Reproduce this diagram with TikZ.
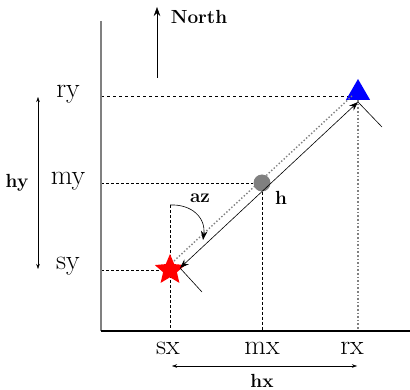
\documentclass[tikz,border=0pt]{standalone}
\usepackage{tikz}
\usepackage{xcolor}
\usetikzlibrary{positioning, calc, shapes.geometric, arrows.meta, backgrounds}

\begin{document}
\begin{tikzpicture}[x=1pt, y=-1pt, >={Stealth[length=9pt,width=6.5pt]},
    every node/.style={font=\fontsize{19}{21}\selectfont\bfseries},
    axlabel/.style={font=\fontsize{28}{30}\selectfont},
    marker/.style={inner sep=0pt, draw=none}]
  \useasboundingbox (0,0) rectangle (410,390);

  % axes
  \coordinate (o) at (101,331);
  \coordinate (ytop) at (101,21);
  \coordinate (xend) at (410,331);
  \draw[gray, line width=2.4pt] (ytop) -- (o);
  \draw[black, line width=1.4pt] (o) -- (xend);

  % markers
  \node[marker, regular polygon, regular polygon sides=3, minimum size=28pt, fill=blue] (tri) at (358,93) {};
  \node[marker, star, star points=5, star point ratio=2.2, minimum size=32pt, fill=red] (st) at (170,270) {};
  \node[marker, circle, minimum size=17pt, fill=gray] (mid) at (262,183) {};

  % axis labels
  \node[axlabel] (ry) at (68,94) {ry};
  \node[axlabel] (my) at (68,181) {my};
  \node[axlabel] (sy) at (68,266) {sy};
  \node[axlabel] (sx) at (168,348) {sx};
  \node[axlabel] (mx) at (262,348) {mx};
  \node[axlabel] (rx) at (352,348) {rx};

  % guide lines
  \coordinate (ryax) at (101,96);
  \coordinate (myax) at (101,183);
  \coordinate (syax) at (101,270);
  \coordinate (aztop) at (170,205);
  \begin{scope}[on background layer]
    \draw[dashed] (ryax) -- (ryax -| tri);
    \draw[densely dashed] (myax) -- (mid);
    \draw[densely dashed] (syax) -- (st);
    \draw[gray, dotted, line width=1.6pt] (tri) -- (tri |- o);
    \draw[densely dashed] (mid) -- (mid |- o);
    \draw[densely dashed] (aztop) -- (aztop |- o);
  \end{scope}

  % line of sight
  \coordinate (slos) at (174,261);
  \coordinate (rlos) at (352,96);
  \draw[gray, dotted, line width=1.4pt] (slos) -- (rlos);
  \coordinate (stip) at (180,268);
  \coordinate (rtip) at (358,102);
  \draw[<->, semithick] (rtip) -- (stip);
  \draw[semithick] (rtip) -- ++(24,25);
  \draw[semithick] (stip) -- ++(22,24);
  \node (h) at (281,198) {h};

  % azimuth
  \draw[->, semithick] (aztop) .. controls (192,204) and (206,218) .. (203,240);
  \node (az) at (200,198) {az};

  % north
  \coordinate (nbot) at (157,78);
  \coordinate (ntop) at (157,7);
  \draw[->, semithick] (nbot) -- (ntop);
  \node (north) at (199,17) {North};

  % extents
  \coordinate (hyt) at (38,97);
  \coordinate (hyb) at (38,269);
  \draw[{Stealth[length=5pt,width=3.5pt]}-{Stealth[length=5pt,width=3.5pt]}] (hyt) -- (hyb);
  \node (hy) at (17,183) {hy};
  \coordinate (hxl) at (172,366);
  \coordinate (hxr) at (357,366);
  \draw[{Stealth[length=5pt,width=3.5pt]}-{Stealth[length=5pt,width=3.5pt]}] (hxl) -- (hxr);
  \node (hx) at (262,381) {hx};
\end{tikzpicture}
\end{document}
